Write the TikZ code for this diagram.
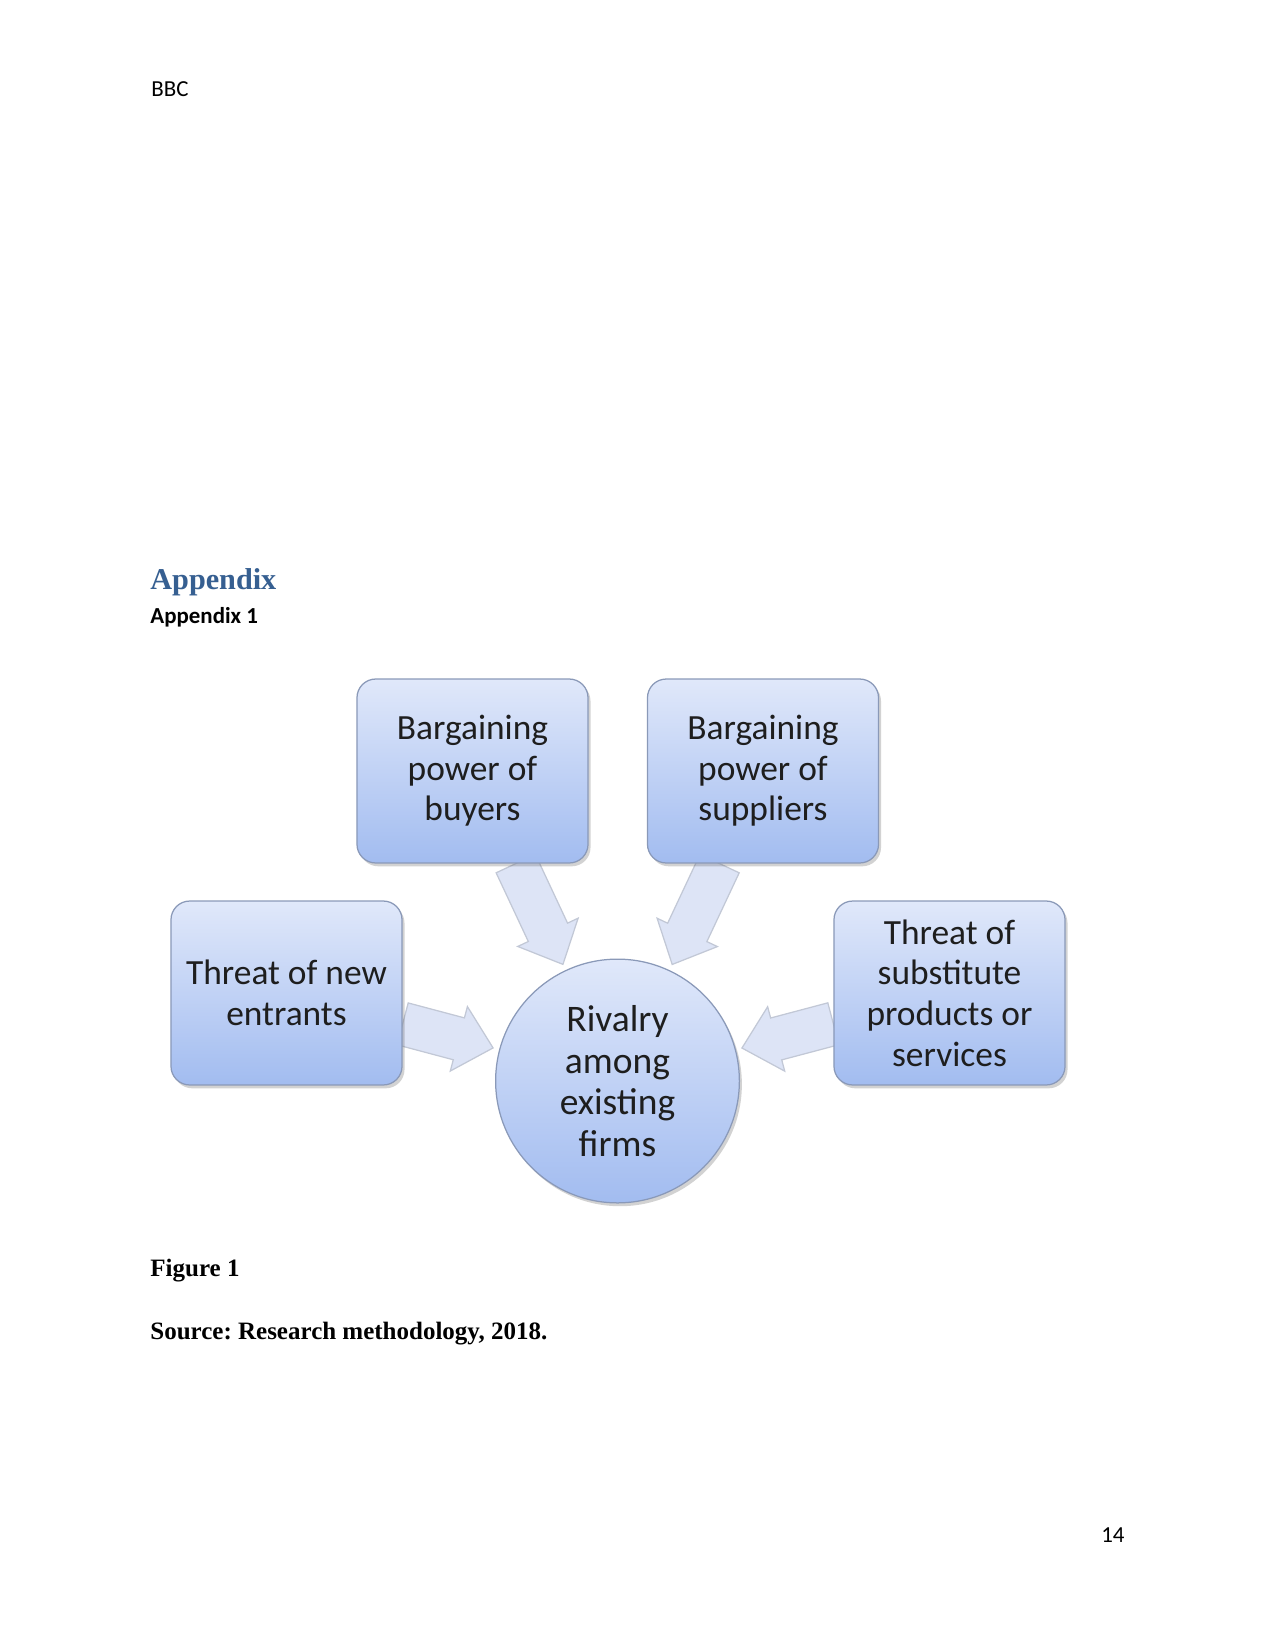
\documentclass[tikz,border=0pt]{standalone}
\usepackage{fontspec}
\setmainfont{Carlito}
\newfontfamily\serifbold{Liberation Serif}
\usepackage{xcolor}
\usepackage{tikz}
\usetikzlibrary{calc, shadows, backgrounds}
\frenchspacing

\definecolor{boxtop}{RGB}{224,232,250}
\definecolor{boxbot}{RGB}{162,188,240}
\definecolor{boxline}{RGB}{138,153,184}
\definecolor{arrfill}{RGB}{221,228,246}
\definecolor{arrline}{RGB}{194,200,214}
\definecolor{headblue}{RGB}{54,95,145}
\definecolor{textdark}{RGB}{30,30,30}

\begin{document}
\begin{tikzpicture}[
  x=0.48pt, y=-0.48pt,
  forcebox/.style = {
    rectangle, draw=boxline, line width=0.6pt,
    top color=boxtop, bottom color=boxbot,
    rounded corners=9pt, align=center,
    minimum width=110.9pt, minimum height=88.3pt,
    text=textdark, font=\fontsize{17}{19.5}\selectfont,
    drop shadow={shadow xshift=1.2pt, shadow yshift=-1.6pt,
                 opacity=0.25, fill=black!70}},
  rivalcircle/.style = {
    circle, draw=boxline, line width=0.6pt,
    top color=boxtop, bottom color=boxbot,
    minimum size=117pt, inner sep=0pt, align=center,
    text=textdark, font=\fontsize{18}{20}\selectfont,
    drop shadow={shadow xshift=1.2pt, shadow yshift=-1.6pt,
                 opacity=0.25, fill=black!70}},
  forcearrow/.style = {draw=arrline, line width=0.6pt, fill=arrfill,
                       line join=miter},
  pagetext/.style = {anchor=base west, inner sep=0pt, font=\fontsize{11}{13}\selectfont}
]
\useasboundingbox (0,0) rectangle (1275,1651);

%── Page text ────────────────────────────────────────────────────
\node[pagetext] (hdr) at (151,97) {BBC};
\node[pagetext, font=\serifbold\bfseries\fontsize{14.5}{17}\selectfont,
      text=headblue] (apphead) at (150,589) {Appendix};
\node[pagetext, font=\bfseries\fontsize{11}{13}\selectfont] (appsub) at (150,623) {Appendix 1};
\node[pagetext, font=\serifbold\bfseries\fontsize{12}{14}\selectfont] (figcap) at (150,1276) {Figure 1};
\node[pagetext, font=\serifbold\bfseries\fontsize{12}{14}\selectfont] (figsrc) at (150,1339)
  {Source: Research methodology, 2018.};
\node[pagetext, anchor=base east] (pgnum) at (1125,1542) {14};

%── Five forces ──────────────────────────────────────────────────
\node[rivalcircle] (rivalry) at (617.5,1081)
  {Rivalry\\among\\existing\\firms};

\node[forcebox] (buyers) at (472.5,771)
  {Bargaining\\power of\\buyers};
\node[forcebox] (suppliers) at (763,771)
  {Bargaining\\power of\\suppliers};
\node[forcebox] (entrants) at (286.5,993)
  {Threat of new\\entrants};
\node[forcebox] (substitutes) at (949.5,993)
  {Threat of\\substitute\\products or\\services};

%── Block arrows towards the rivalry circle ──────────────────────
\begin{scope}[on background layer]
  \foreach \src in {buyers, suppliers, entrants, substitutes}{
    \path (\src) -- coordinate[pos=0] (s) coordinate[pos=1] (t) (rivalry);
    \coordinate (e) at ($(t)!3pt!(s)$);
    \coordinate (hb) at ($(e)!17pt!(s)$);
    \draw[forcearrow]
      ($(s)!10.4pt!90:(e)$) -- ($(hb)!10.4pt!90:(e)$) -- ($(hb)!16pt!90:(e)$)
      -- (e) -- ($(hb)!16pt!-90:(e)$) -- ($(hb)!10.4pt!-90:(e)$)
      -- ($(s)!10.4pt!-90:(e)$) -- cycle;
  }
\end{scope}

\end{tikzpicture}
\end{document}
